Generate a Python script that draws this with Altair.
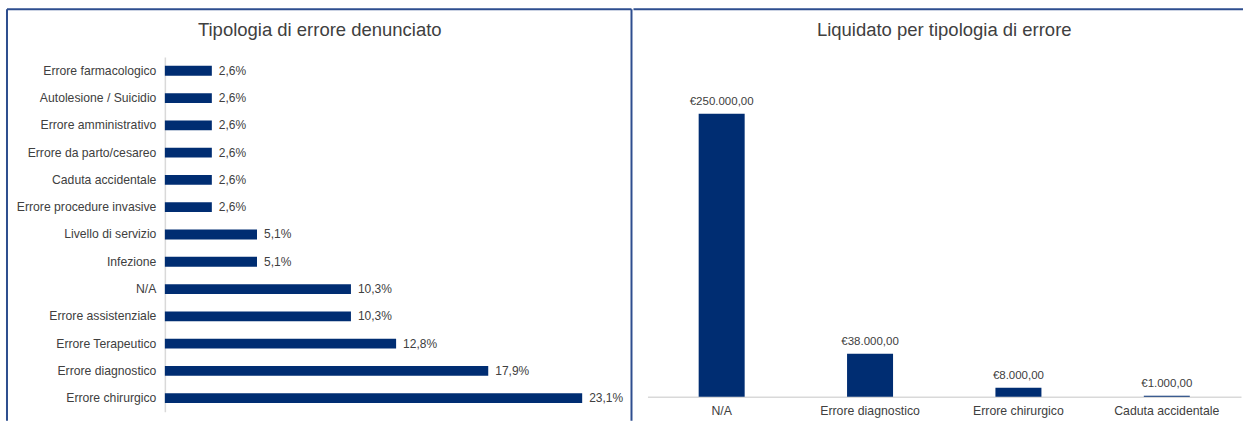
import altair as alt
import pandas as pd

# ---- data ----
left_categories = [
    "Errore farmacologico", "Autolesione / Suicidio", "Errore amministrativo",
    "Errore da parto/cesareo", "Caduta accidentale", "Errore procedure invasive",
    "Livello di servizio", "Infezione", "N/A", "Errore assistenziale",
    "Errore Terapeutico", "Errore diagnostico", "Errore chirurgico",
]
left_values = [2.6, 2.6, 2.6, 2.6, 2.6, 2.6, 5.1, 5.1, 10.3, 10.3, 12.8, 17.9, 23.1]

right_categories = ["N/A", "Errore diagnostico", "Errore chirurgico", "Caduta accidentale"]
right_values = [250000, 38000, 8000, 1000]

left_title = "Tipologia di errore denunciato"
right_title = "Liquidato per tipologia di errore"

BAR = "#002D72"
BORDER = "#2E4E8F"
TXT = "#404040"
AXIS = "#D9D9D9"


def pct(v):
    return f"{v:.1f}".replace(".", ",") + "%"


def eur(v):
    s = f"{v:,.2f}"
    s = s.replace(",", "_").replace(".", ",").replace("_", ".")
    return "€" + s


df_left = pd.DataFrame({"cat": left_categories, "val": left_values,
                        "lab": [pct(v) for v in left_values]})
df_right = pd.DataFrame({"cat": right_categories, "val": right_values,
                         "lab": [eur(v) for v in right_values]})
one = pd.DataFrame({"a": [0]})

W1, H1 = 452, 355
W2, H2 = 594, 340

# ---- left panel ----
yL = alt.Y("cat:N", sort=left_categories,
           scale=alt.Scale(paddingInner=0.64, paddingOuter=0.32),
           axis=alt.Axis(title=None, ticks=False, domainColor=AXIS, domainWidth=1.5,
                         labelPadding=9, labelColor=TXT, labelFontSize=12.2,
                         labelLimit=300))
xL = alt.X("val:Q", scale=alt.Scale(domain=[0, 25], nice=False), axis=None)

bars_left = alt.Chart(df_left).mark_bar(color=BAR).encode(x=xL, y=yL)
text_left = alt.Chart(df_left).mark_text(align="left", dx=7, fontSize=12, color=TXT).encode(
    x=xL, y=yL, text="lab:N")

base1 = alt.Chart(one)
left_border = base1.mark_rule(color=BORDER, strokeWidth=2).encode(
    x=alt.value(-158), y=alt.value(-48), y2=alt.value(364))
top_border_l = base1.mark_rule(color=BORDER, strokeWidth=2).encode(
    x=alt.value(-158), x2=alt.value(467), y=alt.value(-48))
divider = base1.mark_rule(color=BORDER, strokeWidth=2).encode(
    x=alt.value(467), y=alt.value(-48), y2=alt.value(364))
title_l = base1.mark_text(fontSize=18.5, color=TXT, baseline="middle").encode(
    x=alt.value(155), y=alt.value(-27), text=alt.value(left_title))

left = alt.layer(bars_left, text_left, left_border, top_border_l, divider, title_l).properties(
    width=W1, height=H1)

# ---- right panel ----
xR = alt.X("cat:N", sort=right_categories,
           scale=alt.Scale(paddingInner=0.69, paddingOuter=0.345),
           axis=alt.Axis(title=None, ticks=False, labelAngle=0, domainColor=AXIS,
                         domainWidth=1.5, labelPadding=8, labelColor=TXT,
                         labelFontSize=12.3))
yR = alt.Y("val:Q", scale=alt.Scale(domain=[0, 300000], nice=False), axis=None)

bars_right = alt.Chart(df_right).mark_bar(color=BAR).encode(x=xR, y=yR)
text_right = alt.Chart(df_right).mark_text(baseline="bottom", dy=-7, fontSize=11.5, color=TXT).encode(
    x=xR, y=yR, text="lab:N")

base2 = alt.Chart(one)
top_border_r = base2.mark_rule(color=BORDER, strokeWidth=2).encode(
    x=alt.value(-14), x2=alt.value(W2 + 2), y=alt.value(-48))
title_r = base2.mark_text(fontSize=18.5, color=TXT, baseline="middle").encode(
    x=alt.value(297), y=alt.value(-27), text=alt.value(right_title))

right = alt.layer(bars_right, text_right, top_border_r, title_r).properties(
    width=W2, height=H2)

chart = alt.hconcat(left, right, spacing=0).properties(
    padding={"left": 6, "top": 8, "right": 0, "bottom": 0}
).configure(font="Liberation Sans").configure_view(stroke=None)

chart.save("out.html", embed_options={"renderer": "svg", "actions": False})
